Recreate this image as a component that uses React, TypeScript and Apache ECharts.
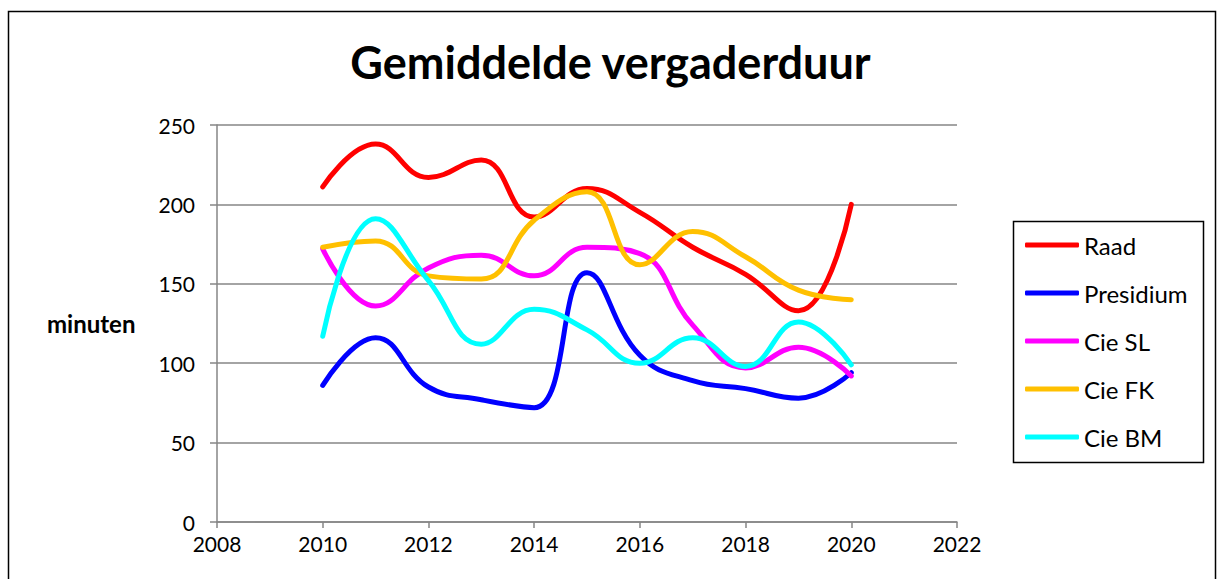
import React, { useEffect, useRef } from "react";
import * as echarts from "echarts";

const years = [2010, 2011, 2012, 2013, 2014, 2015, 2016, 2017, 2018, 2019, 2020];
const raad = [211, 238, 217, 228, 192, 210, 195, 173, 156, 133, 200];
const presidium = [86, 116, 85, 77, 72, 157, 105, 89, 84, 78, 94];
const cieSL = [172, 136, 160, 168, 155, 173, 169, 124, 97, 110, 92];
const cieFK = [173, 177, 155, 153, 190, 208, 162, 183, 167, 146, 140];
const cieBM = [117, 191, 152, 112, 134, 121, 100, 116, 98, 126, 99];

const seriesNames = ["Raad", "Presidium", "Cie SL", "Cie FK", "Cie BM"];
const seriesColors = ["#FF0000", "#0000FF", "#FF00FF", "#FFC000", "#00FFFF"];
const seriesData = [raad, presidium, cieSL, cieFK, cieBM];

const FONT = "Lato, 'Open Sans', sans-serif";

export default function App() {
  const ref = useRef<HTMLDivElement>(null);
  useEffect(() => {
    if (!ref.current) return;
    const chart = echarts.init(ref.current, null, { renderer: "svg" });
    chart.setOption({
      animation: false,
      backgroundColor: "#fff",
      title: {
        text: "Gemiddelde vergaderduur",
        left: "center",
        top: 34,
        textStyle: { fontFamily: FONT, fontWeight: "bold", fontSize: 45, color: "#000" },
      },
      grid: { left: 217, right: 264, top: 125, bottom: 57 },
      xAxis: {
        type: "value",
        min: 2008,
        max: 2022,
        interval: 2,
        axisLine: { lineStyle: { color: "#868686", width: 1.5 } },
        axisTick: { show: true, length: 6, lineStyle: { color: "#868686", width: 1.5 } },
        axisLabel: { color: "#000", fontSize: 21, fontFamily: FONT, margin: 11, formatter: (v: number) => String(v) },
        splitLine: { show: false },
      },
      yAxis: {
        type: "value",
        min: 0,
        max: 250,
        interval: 50,
        axisLine: { show: true, lineStyle: { color: "#868686", width: 1.5 } },
        axisTick: { show: true, length: 7, lineStyle: { color: "#868686", width: 1.5 } },
        axisLabel: { color: "#000", fontSize: 21, fontFamily: FONT, margin: 22 },
        splitLine: { show: true, lineStyle: { color: "#868686", width: 1.5 } },
      },
      legend: {
        orient: "vertical",
        left: 1025,
        top: 232,
        padding: 0,
        itemWidth: 54,
        itemHeight: 5,
        itemGap: 22,
        icon: "roundRect",
        textStyle: { fontFamily: FONT, fontSize: 24, color: "#000", lineHeight: 26, padding: [0, 0, 0, 0] },
        data: seriesNames,
      },
      graphic: [
        {
          type: "rect",
          shape: { x: 8.5, y: 11.5, width: 1207, height: 620 },
          style: { fill: "none", stroke: "#000", lineWidth: 1.5 },
          silent: true,
        },
        {
          type: "rect",
          shape: { x: 1013.5, y: 221.5, width: 190, height: 241 },
          style: { fill: "none", stroke: "#000", lineWidth: 1.5 },
          silent: true,
        },
        {
          type: "text",
          left: 47,
          top: 311,
          style: { text: "minuten", fontFamily: FONT, fontWeight: "bold", fontSize: 24, fill: "#000" },
        },
      ],
      series: seriesNames.map((name, i) => ({
        name,
        type: "line",
        smooth: 0.45,
        showSymbol: false,
        symbol: "none",
        color: seriesColors[i],
        lineStyle: { width: 5, color: seriesColors[i], cap: "round" },
        data: years.map((y, j) => [y, seriesData[i][j]]),
      })),
    });
    return () => chart.dispose();
  }, []);
  return (
    <div
      ref={ref}
      style={{ position: "fixed", left: 0, top: 0, width: 1221, height: 579, background: "#fff" }}
    />
  );
}
